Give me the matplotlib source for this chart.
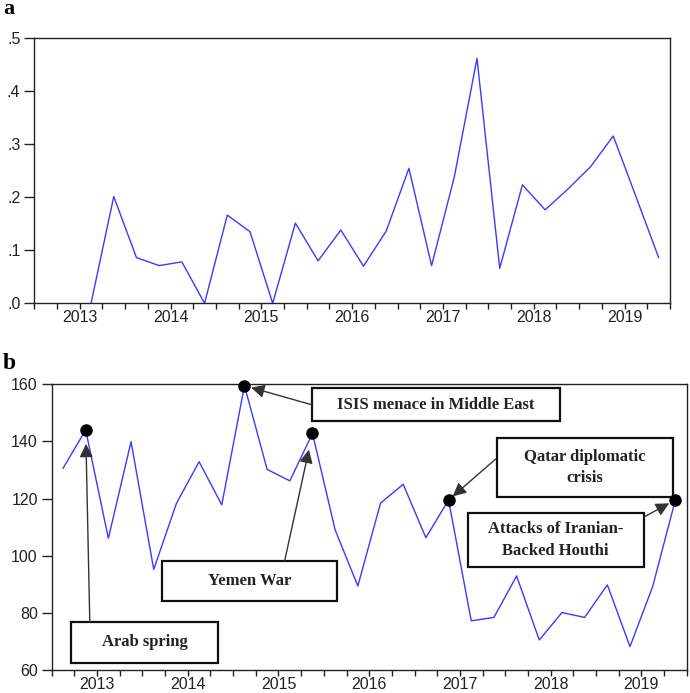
import numpy as np
import matplotlib.pyplot as plt
from matplotlib.patches import Rectangle
from matplotlib.ticker import FuncFormatter

# quarterly series 2012Q3 .. 2019Q2
quarters = ['2012Q3', '2012Q4',
            '2013Q1', '2013Q2', '2013Q3', '2013Q4',
            '2014Q1', '2014Q2', '2014Q3', '2014Q4',
            '2015Q1', '2015Q2', '2015Q3', '2015Q4',
            '2016Q1', '2016Q2', '2016Q3', '2016Q4',
            '2017Q1', '2017Q2', '2017Q3', '2017Q4',
            '2018Q1', '2018Q2', '2018Q3', '2018Q4',
            '2019Q1', '2019Q2']
years = ['2013', '2014', '2015', '2016', '2017', '2018', '2019']

series_a = [np.nan, np.nan,
            0.000, 0.201, 0.086, 0.071,
            0.078, 0.000, 0.166, 0.135,
            0.000, 0.151, 0.080, 0.138,
            0.070, 0.136, 0.254, 0.071,
            0.238, 0.461, 0.066, 0.223,
            0.176, 0.215, 0.257, 0.315,
            0.201, 0.086]

series_b = [130.6, 144.0,
            106.1, 139.9, 95.2, 118.3,
            132.9, 117.8, 159.5, 130.2,
            126.2, 142.8, 109.0, 89.4,
            118.4, 125.0, 106.3, 119.5,
            77.2, 78.4, 92.9, 70.5,
            80.1, 78.4, 89.8, 68.2,
            89.2, 119.5]

# events: (label, quarter, box [x0, y0, x1, y1] in axes fraction, arrow start, tip gap)
events = [
    ('Arab spring', '2012Q4', [0.030, 0.026, 0.262, 0.169], (0.060, 0.169), 10),
    ('Yemen War', '2015Q2', [0.173, 0.242, 0.450, 0.383], (0.367, 0.383), 12),
    ('ISIS menace in Middle East', '2014Q3', [0.410, 0.872, 0.800, 0.986], (0.410, 0.928), 5),
    ('Qatar diplomatic\ncrisis', '2016Q4', [0.701, 0.605, 0.978, 0.811], (0.699, 0.738), 4),
    ('Attacks of Iranian-\nBacked Houthi', '2019Q2', [0.655, 0.360, 0.932, 0.551], (0.934, 0.537), 5),
]

x = np.arange(len(quarters))
year_pos = [quarters.index(y + 'Q1') - 0.5 for y in years]
bounds = np.arange(len(quarters) + 1) - 0.5

line_col = '#3a3aff'
txt_col = '#222222'
plt.rcParams['font.family'] = ['Liberation Sans', 'DejaVu Sans']

fig = plt.figure(figsize=(6.9, 6.93), dpi=100)
ax1 = fig.add_axes([0.0497, 0.5623, 0.9213, 0.3833])
ax2 = fig.add_axes([0.0749, 0.0332, 0.9203, 0.4123])


def style(ax):
    ax.xaxis.remove_overlapping_locs = False
    ax.set_xlim(bounds[0], bounds[-1])
    ax.set_xticks(bounds)
    ax.set_xticklabels([])
    ax.set_xticks(year_pos, minor=True)
    ax.set_xticklabels(years, minor=True)
    ax.tick_params(axis='x', which='major', direction='out', length=4, width=1, color='#222')
    ax.tick_params(axis='x', which='minor', length=0, pad=5, labelsize=11.5, labelcolor=txt_col)
    ax.tick_params(axis='y', direction='out', length=7, width=1, pad=3,
                   labelsize=11.5, labelcolor=txt_col, color='#222')
    for s in ax.spines.values():
        s.set_linewidth(1.0)
        s.set_color('#222')


# panel a
ax1.plot(x, series_a, color=line_col, lw=1)
ax1.set_ylim(0, 0.5)
ax1.set_yticks([0, 0.1, 0.2, 0.3, 0.4, 0.5])
ax1.yaxis.set_major_formatter(FuncFormatter(lambda v, p: f'{v:.1f}'.lstrip('0')))
style(ax1)

# panel b
ax2.plot(x, series_b, color=line_col, lw=1)
ax2.set_ylim(60, 160)
ax2.set_yticks([60, 80, 100, 120, 140, 160])
style(ax2)

for label, q, box, start, gap in events:
    i = quarters.index(q)
    ax2.plot(i, series_b[i], 'o', color='black', ms=8, clip_on=False, zorder=5)
    ax2.add_patch(Rectangle((box[0], box[1]), box[2] - box[0], box[3] - box[1],
                            transform=ax2.transAxes, fill=True, facecolor='white',
                            edgecolor='#111', lw=1.6, clip_on=False, zorder=3))
    ax2.text((box[0] + box[2]) / 2, (box[1] + box[3]) / 2, label,
             transform=ax2.transAxes, ha='center', va='center', fontsize=12,
             fontweight='bold', family=['Liberation Serif', 'DejaVu Serif'],
             color=txt_col, linespacing=1.45, zorder=4)
    ax2.annotate('', xy=(i, series_b[i]), xycoords='data',
                 xytext=start, textcoords='axes fraction',
                 arrowprops=dict(arrowstyle='-|>', mutation_scale=20, lw=1.0,
                                 color='#333', shrinkA=0, shrinkB=gap),
                 zorder=4, annotation_clip=False)

fig.text(0.004, 0.98, 'a', fontsize=16, fontweight='bold',
         family=['Liberation Serif', 'DejaVu Serif'], va='baseline')
fig.text(0.004, 0.468, 'b', fontsize=17, fontweight='bold',
         family=['Liberation Serif', 'DejaVu Serif'], va='baseline')

fig.savefig('out.png', dpi=100)
